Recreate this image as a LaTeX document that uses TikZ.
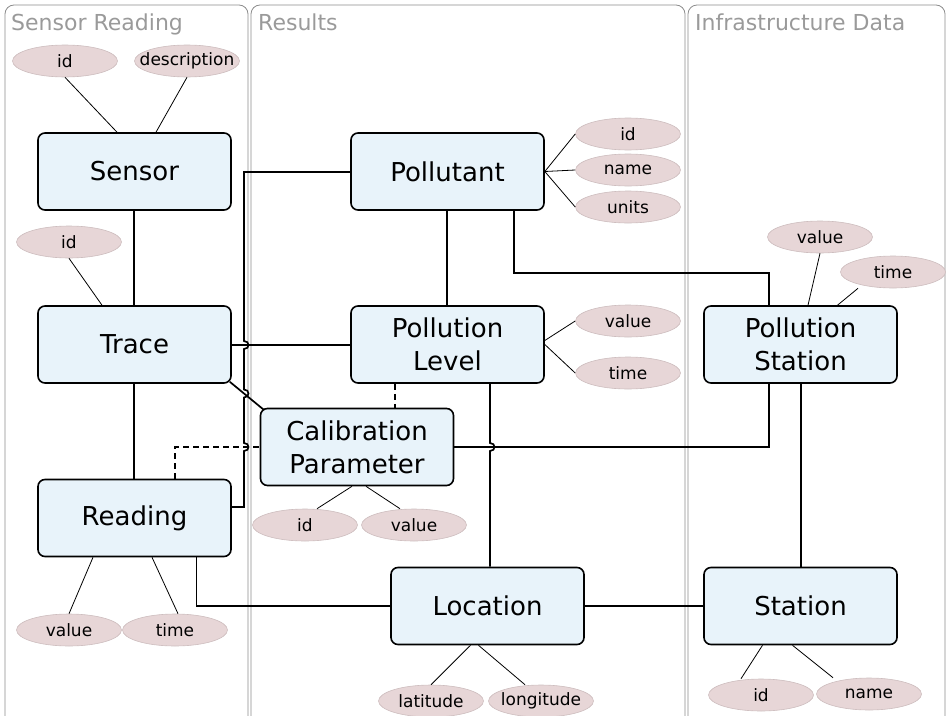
\documentclass[tikz,border=0pt]{standalone}
\usepackage{fontspec}
\setmainfont{DejaVu Sans}
\usetikzlibrary{calc,shapes.geometric}
\definecolor{entfill}{HTML}{E8F3FA}
\definecolor{attfill}{HTML}{E7D6D7}
\definecolor{attdraw}{HTML}{CDBDBE}
\definecolor{lanegray}{HTML}{8C8C8C}
\definecolor{titlegray}{HTML}{9A9A9A}
\begin{document}
\begin{tikzpicture}[x=1pt,y=-1pt,
  entity/.style={draw=black, line width=1.6pt, fill=entfill, rounded corners=7pt,
    minimum width=193pt, minimum height=77pt, align=center, inner sep=0pt,
    font=\fontsize{26}{33}\selectfont},
  attr/.style={ellipse, draw=attdraw, line width=0.6pt, fill=attfill,
    minimum width=105pt, minimum height=32pt, inner xsep=-12pt, inner ysep=0pt,
    font=\fontsize{17}{20}\selectfont},
  link/.style={line width=1.7pt},
  aline/.style={line width=0.8pt},
  dashlink/.style={line width=1.7pt, dash pattern=on 6pt off 4pt},
  lane/.style={draw=lanegray, line width=0.8pt, rounded corners=9pt},
  lanetitle/.style={anchor=base west, text=titlegray, inner sep=0pt,
    font=\fontsize{22}{25}\selectfont}]

\useasboundingbox (0,0) rectangle (947,715);
\clip (0,0) rectangle (947,715);

% swimlanes
\draw[lane] (5,5) rectangle (248,730);
\draw[lane] (251,5) rectangle (685,730);
\draw[lane] (688,5) rectangle (945,730);
\node[lanetitle] (t1) at (11,30) {Sensor Reading};
\node[lanetitle] (t2) at (258,30) {Results};
\node[lanetitle] (t3) at (695,30) {Infrastructure Data};

% entities
\node[entity] (sensor)    at (134.5,171.5) {Sensor};
\node[entity] (trace)     at (134.5,344.5) {Trace};
\node[entity] (reading)   at (134.5,518)   {Reading};
\node[entity] (pollutant) at (447.5,171.5) {Pollutant};
\node[entity] (plevel)    at (447.5,344.5) {Pollution\\Level};
\node[entity] (cp)        at (357,447)     {Calibration\\Parameter};
\node[entity] (location)  at (487.5,606)   {Location};
\node[entity] (pstation)  at (800.5,344.5) {Pollution\\Station};
\node[entity] (station)   at (800.5,606)   {Station};

% attributes
\node[attr] (sid)    at (65,61)   {id};
\node[attr] (sdesc)  at (187,61)  {description};
\node[attr] (tid)    at (69,242)  {id};
\node[attr] (rval)   at (69,630)  {value};
\node[attr] (rtime)  at (175,630) {time};
\node[attr] (pid)    at (628,134) {id};
\node[attr] (pname)  at (628,170) {name};
\node[attr] (punits) at (628,207) {units};
\node[attr] (plval)  at (628,321) {value};
\node[attr] (pltime) at (628,373) {time};
\node[attr] (cpid)   at (305,525) {id};
\node[attr] (cpval)  at (414,525) {value};
\node[attr] (psval)  at (820,237) {value};
\node[attr] (pstime) at (893,272) {time};
\node[attr] (lat)    at (431,701) {latitude};
\node[attr] (lon)    at (541,701) {longitude};
\node[attr] (stid)   at (761,695) {id};
\node[attr] (stname) at (869,694) {name};

% attribute lines
\draw[aline] (sid.south) -- ($(sensor.north)+(-17.5,0)$);
\draw[aline] (sdesc.south) -- ($(sensor.north)+(21.5,0)$);
\draw[aline] (tid.south) -- ($(trace.north)+(-32.5,0)$);
\draw[aline] (rval.north) -- ($(reading.south)+(-41.5,0)$);
\draw[aline] ($(rtime.north)+(3,0)$) -- ($(reading.south)+(17.5,0)$);
\draw[aline] (pollutant.east) -- (pid.west);
\draw[aline] (pollutant.east) -- (pname.west);
\draw[aline] (pollutant.east) -- (punits.west);
\draw[aline] ($(plevel.east)+(0,-4)$) -- (plval.west);
\draw[aline] (plevel.east) -- (pltime.west);
\draw[aline] ($(cp.south)+(-5,0)$) -- ($(cpid.north)+(12,0)$);
\draw[aline] ($(cp.south)+(9,0)$) -- ($(cpval.north)+(-14,0)$);
\draw[aline] (psval.south) -- ($(pstation.north)+(7.5,0)$);
\draw[aline] ($(pstime.south)+(-35,0)$) -- ($(pstation.north)+(37,0)$);
\draw[aline] ($(location.south)+(-17,0)$) -- (lat.north);
\draw[aline] ($(location.south)+(-9,0)$) -- ($(lon.north)+(-16,0)$);
\draw[aline] ($(station.south)+(-38,0)$) -- ($(stid.north)+(-20,0)$);
\draw[aline] ($(station.south)+(-8,0)$) -- ($(stname.north)+(-36,0)$);

% relationships
\draw[link] ($(sensor.south)+(-0.5,0)$) -- ($(trace.north)+(-0.5,0)$);
\draw[link] ($(trace.south)+(-0.5,0)$) -- ($(reading.north)+(-0.5,0)$);
\draw[link] ($(pollutant.south)+(-0.5,0)$) -- ($(plevel.north)+(-0.5,0)$);
\draw[link] ($(pstation.south)+(0.5,0)$) -- ($(station.north)+(0.5,0)$);
\draw[link] ($(trace.east)+(0,0.5)$) -- ($(plevel.west)+(0,0.5)$);
\draw[link] ($(trace.south east)+(-2,-2)$) -- ($(cp.north west)+(4,2)$);
\draw[link] (location.east) -- (station.west);
\draw[link] ($(reading.south)+(62,0)$) |- (location.west);
\draw[link] ($(pollutant.south)+(66.5,0)$) -- ++(0,62) -| ($(pstation.north)+(-31.5,0)$);
\draw[link] (cp.east) -| ($(pstation.south)+(-31.5,0)$);
\draw[dashlink] ($(reading.north)+(40.5,0)$) |- (cp.west);
\draw[dashlink] ($(plevel.south)+(-52.5,0)$) -- ($(cp.north)+(38,0)$);

% lines hopping over the crossings
\draw[link] ($(pollutant.west)+(0,0.5)$) -- (244,172)
  -- (244,341) .. controls (250,341) and (250,349) .. (244,349)
  -- (244,389.5) .. controls (250,389.5) and (250,397.5) .. (244,397.5)
  -- (244,443) .. controls (250,443) and (250,451) .. (244,451)
  -- (244,507) -- ($(reading.east)+(0,-11)$);
\draw[link] ($(plevel.south)+(42.5,0)$) -- (490,443)
  .. controls (496,443) and (496,451) .. (490,451)
  -- ($(location.north)+(2.5,0)$);
\end{tikzpicture}
\end{document}
